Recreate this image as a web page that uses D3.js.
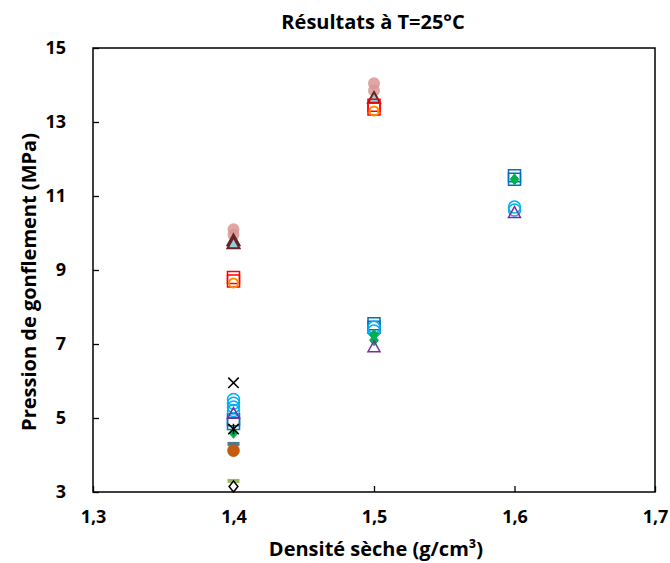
<!DOCTYPE html>
<html><head><meta charset="utf-8">
<script src="https://cdn.jsdelivr.net/npm/d3@7"></script>
<style>body{margin:0;background:#fff}</style>
</head><body><div id="chart"></div>
<script>
// ---- data ----
const xTicks = [1.3, 1.4, 1.5, 1.6, 1.7];
const yTicks = [3, 5, 7, 9, 11, 13, 15];
const titleText = "Résultats à T=25°C";
const xLabel = "Densité sèche (g/cm³)";
const yLabel = "Pression de gonflement (MPa)";

const s1 = [[1.4,10.1],[1.4,9.95],[1.5,14.05],[1.5,13.85]];
const s2 = [[1.4,9.8],[1.4,9.72],[1.5,13.65]];
const s3 = [[1.4,8.8],[1.4,8.7],[1.5,13.45],[1.5,13.35]];
const s4 = [[1.4,8.65],[1.5,13.3]];
const s5 = [[1.4,4.95],[1.4,4.85],[1.5,7.55],[1.5,7.45],[1.6,11.55],[1.6,11.45]];
const s6 = [[1.4,5.5],[1.4,5.4],[1.4,5.3],[1.4,5.2],[1.5,7.45],[1.5,7.35],[1.6,10.7],[1.6,10.62]];
const s7 = [[1.4,4.6],[1.5,7.25],[1.5,7.1],[1.6,11.45]];
const s8 = [[1.4,5.12],[1.5,6.92],[1.6,10.55]];
const s9 = [[1.4,5.95]];
const s10 = [[1.4,4.7]];
const s11 = [[1.4,4.3]];
const s12 = [[1.4,4.12]];
const s13 = [[1.4,3.3]];
const s14 = [[1.4,3.15]];

// ---- custom symbol types ----
const symX = {draw(c, s){const r=Math.sqrt(s)/2; c.moveTo(-r,-r);c.lineTo(r,r);c.moveTo(r,-r);c.lineTo(-r,r);}};
const symAst = {draw(c, s){const r=Math.sqrt(s)/2; c.moveTo(-r,-r);c.lineTo(r,r);c.moveTo(r,-r);c.lineTo(-r,r);c.moveTo(0,-r);c.lineTo(0,r);}};
const symDash = {draw(c, s){const r=Math.sqrt(s)/2; c.rect(-r,-2,2*r,4);}};
const symSq = {draw(c, s){const r=Math.sqrt(s)/2; c.rect(-r,-r,2*r,2*r);}};
const symTri = {draw(c, s){const r=Math.sqrt(s)/2; c.moveTo(0,-r);c.lineTo(r,r*0.8);c.lineTo(-r,r*0.8);c.closePath();}};
const symDia = {draw(c, s){const r=Math.sqrt(s)/2; c.moveTo(0,-r);c.lineTo(r*0.8,0);c.lineTo(0,r);c.lineTo(-r*0.8,0);c.closePath();}};
const symCirc = {draw(c, s){const r=Math.sqrt(s)/2; c.moveTo(r,0);c.arc(0,0,r,0,2*Math.PI);}};

const series = [
  {data:s1, type:symCirc, size:144, fill:"#D99694", stroke:"none", sw:0, op:0.85},
  {data:s2, type:symTri, size:144, fill:"#93CDDD", stroke:"#632523", sw:2, op:1},
  {data:s3, type:symSq, size:144, fill:"none", stroke:"#FF0000", sw:1.5, op:1},
  {data:s4, type:symCirc, size:81, fill:"none", stroke:"#FF8C00", sw:2, op:1},
  {data:s5, type:symSq, size:144, fill:"none", stroke:"#0070C0", sw:1.5, op:1},
  {data:s6, type:symCirc, size:144, fill:"none", stroke:"#00B0F0", sw:1.5, op:1},
  {data:s7, type:symDia, size:121, fill:"#00B050", stroke:"#00B050", sw:1, op:1},
  {data:s8, type:symTri, size:144, fill:"none", stroke:"#7030A0", sw:1.5, op:1},
  {data:s9, type:symX, size:110, fill:"none", stroke:"#000000", sw:1.5, op:1},
  {data:s10, type:symAst, size:110, fill:"none", stroke:"#000000", sw:1.5, op:1},
  {data:s11, type:symDash, size:144, fill:"#4B7B8B", stroke:"none", sw:0, op:1},
  {data:s12, type:symCirc, size:160, fill:"#C55A11", stroke:"none", sw:0, op:1},
  {data:s13, type:symDash, size:144, fill:"#9BBB59", stroke:"none", sw:0, op:1},
  {data:s14, type:symDia, size:121, fill:"#FFFFFF", stroke:"#000000", sw:1.5, op:1}
];

// ---- layout ----
const W = 670, H = 563;
const m = {left:93, right:15, top:48, bottom:71};
const iw = W - m.left - m.right, ih = H - m.top - m.bottom;
const FONT = "'Open Sans', 'Noto Sans', sans-serif";

const svg = d3.select("#chart").append("svg").attr("width", W).attr("height", H)
  .style("font-family", FONT);

const x = d3.scaleLinear().domain([1.3, 1.7]).range([0, iw]);
const y = d3.scaleLinear().domain([3, 15]).range([ih, 0]);
const g = svg.append("g").attr("transform", `translate(${m.left},${m.top})`);

const fmt = d => d3.format(".1f")(d).replace(".", ",");

const xAxis = g.append("g").attr("transform", `translate(0,${ih})`)
  .call(d3.axisBottom(x).tickValues(xTicks).tickSize(-6).tickPadding(18).tickFormat(fmt));
const yAxis = g.append("g")
  .call(d3.axisLeft(y).tickValues(yTicks).tickSize(-6).tickPadding(27).tickFormat(d3.format("d")));
[xAxis, yAxis].forEach(a => {
  a.select(".domain").remove();
  a.selectAll(".tick line").attr("stroke", "#000").attr("stroke-width", 1.3);
  a.selectAll(".tick text").attr("fill", "#000").style("font-size", "18px").style("font-weight", "bold")
    .style("font-family", FONT);
});

g.append("rect").attr("width", iw).attr("height", ih).attr("fill", "none")
  .attr("stroke", "#000").attr("stroke-width", 1.5);

series.forEach(s => {
  g.append("g").selectAll("path").data(s.data).join("path")
    .attr("transform", d => `translate(${x(d[0])},${y(d[1])})`)
    .attr("d", d3.symbol().type(s.type).size(s.size))
    .attr("fill", s.fill).attr("stroke", s.stroke).attr("stroke-width", s.sw)
    .attr("opacity", s.op);
});

svg.append("text").attr("x", 373).attr("y", 29).attr("text-anchor", "middle")
  .style("font-size", "20px").style("font-weight", "bold").text(titleText);
svg.append("text").attr("x", 376).attr("y", 556).attr("text-anchor", "middle")
  .style("font-size", "20px").style("font-weight", "bold").text(xLabel);
svg.append("text").attr("transform", "translate(36,282) rotate(-90)").attr("text-anchor", "middle")
  .style("font-size", "20px").style("font-weight", "bold").text(yLabel);
</script></body></html>
